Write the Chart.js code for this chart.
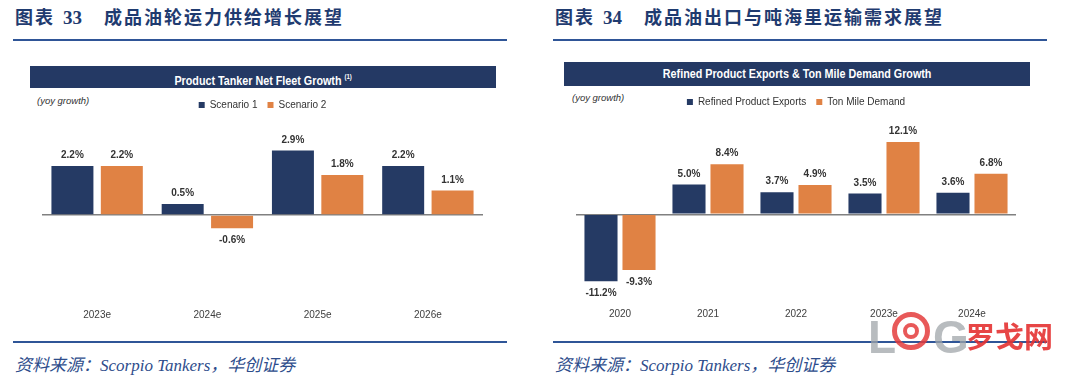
<!DOCTYPE html>
<html><head><meta charset="utf-8">
<script src="https://cdn.jsdelivr.net/npm/chart.js@4.4.1/dist/chart.umd.min.js"></script>
<style>
html,body{margin:0;padding:0;background:#fff;}
body{width:1080px;height:383px;position:relative;overflow:hidden;font-family:"Liberation Sans",Arial,sans-serif;}
.ttl{position:absolute;top:6px;font-family:"Liberation Serif","Noto Sans CJK SC",serif;font-weight:bold;font-size:18px;color:#1f3b70;letter-spacing:2px;white-space:nowrap;line-height:24px;}
.ttl .num{margin:0 22px 0 8px;font-size:19px;letter-spacing:0;}
.rule{position:absolute;height:2px;background:#2f5597;}
.hdr{position:absolute;background:#243964;color:#fff;font-weight:bold;font-size:12.5px;text-align:center;white-space:nowrap;}
.hdr span{display:inline-block;transform:scaleX(0.86);}
.hdr sup{font-size:7px;vertical-align:6px;}
.yoy{position:absolute;font-style:italic;font-size:9.5px;color:#333;}
.src{position:absolute;top:351px;font-family:"Liberation Serif","Noto Sans CJK SC",serif;font-style:italic;font-size:17px;color:#2e4d8c;white-space:nowrap;}
canvas{position:absolute;}
.wm{position:absolute;font-weight:bold;white-space:nowrap;}
</style></head>
<body>
<div class="ttl" style="left:15px;">图表<span class="num">33</span>成品油轮运力供给增长展望</div>
<div class="ttl" style="left:555px;">图表<span class="num">34</span>成品油出口与吨海里运输需求展望</div>
<div class="rule" style="left:13px;width:494px;top:39px;"></div>
<div class="rule" style="left:553px;width:494px;top:39px;"></div>

<div class="hdr" style="left:30px;width:466px;top:66px;height:22px;line-height:22px;"><span>Product Tanker Net Fleet Growth <sup>(1)</sup></span></div>
<div class="hdr" style="left:564px;width:466px;top:62px;height:24px;line-height:24px;"><span>Refined Product Exports &amp; Ton Mile Demand Growth</span></div>
<div class="yoy" style="left:37px;top:95px;">(yoy growth)</div>
<div class="yoy" style="left:572px;top:92px;">(yoy growth)</div>

<canvas id="c1" width="530" height="240" style="left:0;top:90px;width:530px;height:240px;"></canvas>
<canvas id="c2" width="530" height="240" style="left:540px;top:87px;width:530px;height:240px;"></canvas>

<div class="rule" style="left:13px;width:494px;top:341px;"></div>
<div class="rule" style="left:553px;width:494px;top:341px;"></div>
<div class="src" style="left:15px;">资料来源：Scorpio Tankers，华创证券</div>
<div class="src" style="left:555px;">资料来源：Scorpio Tankers，华创证券</div>

<div class="wm" style="left:868px;top:310px;font-size:46px;color:rgba(160,165,170,0.75);font-family:'Liberation Sans',Arial;">L</div>
<div class="wm" style="left:892px;top:312px;width:38px;height:38px;border-radius:50%;border:5px solid rgba(228,60,60,0.85);box-sizing:border-box;"></div>
<div class="wm" style="left:903px;top:323px;width:16px;height:16px;border-radius:50%;border:4px solid rgba(228,60,60,0.85);box-sizing:border-box;"></div>
<div class="wm" style="left:933px;top:310px;font-size:46px;color:rgba(160,165,170,0.75);font-family:'Liberation Sans',Arial;">G</div>
<div class="wm" style="left:966px;top:314px;font-size:29px;color:rgba(228,50,50,0.9);font-family:'Noto Sans CJK SC';">罗戈网</div>

<script>
// ---- Chart 33 data ----
const cats1 = ["2023e", "2024e", "2025e", "2026e"];
const scenario1 = [2.2, 0.5, 2.9, 2.2];
const scenario2 = [2.2, -0.6, 1.8, 1.1];
const series1Names = ["Scenario 1", "Scenario 2"];

// ---- Chart 34 data ----
const cats2 = ["2020", "2021", "2022", "2023e", "2024e"];
const refinedExports = [-11.2, 5.0, 3.7, 3.5, 3.6];
const tonMileDemand = [-9.3, 8.4, 4.9, 12.1, 6.8];
const series2Names = ["Refined Product Exports", "Ton Mile Demand"];

const NAVY = "#253a64";
const ORANGE = "#e08244";
const FONT = "'Liberation Sans', Arial, sans-serif";

const valueLabels = {
  id: "valueLabels",
  afterDatasetsDraw(chart) {
    const ctx = chart.ctx;
    ctx.save();
    ctx.font = "bold 10px " + FONT;
    ctx.fillStyle = "#333333";
    ctx.textAlign = "center";
    ctx.textBaseline = "middle";
    chart.data.datasets.forEach((ds, di) => {
      const meta = chart.getDatasetMeta(di);
      meta.data.forEach((el, i) => {
        const v = ds.data[i];
        const y = v >= 0 ? el.y - 10.5 : el.y + 12;
        ctx.fillText(v.toFixed(1) + "%", el.x, y);
      });
    });
    ctx.restore();
  }
};

function legendGap(extra) {
  return {
    id: "legendGap",
    beforeInit(chart) {
      const origFit = chart.legend.fit;
      chart.legend.fit = function () {
        origFit.bind(chart.legend)();
        this.height += extra;
      };
    }
  };
}

function makeChart(id, cats, a, b, names, ymin, ymax, step, cp, bp, pad, tickPad, gap) {
  return new Chart(document.getElementById(id), {
    type: "bar",
    data: {
      labels: cats,
      datasets: [
        { label: names[0], data: a, backgroundColor: NAVY, categoryPercentage: cp, barPercentage: bp },
        { label: names[1], data: b, backgroundColor: ORANGE, categoryPercentage: cp, barPercentage: bp }
      ]
    },
    options: {
      responsive: false,
      animation: false,
      devicePixelRatio: 1,
      layout: { padding: pad },
      plugins: {
        legend: {
          position: "top",
          labels: {
            boxWidth: 6, boxHeight: 6, padding: 10, color: "#333",
            font: { size: 10, family: FONT }
          }
        },
        tooltip: { enabled: false }
      },
      scales: {
        x: {
          grid: { display: false, drawTicks: false },
          border: { display: false },
          ticks: { color: "#404040", padding: tickPad, font: { size: 10, family: FONT } }
        },
        y: {
          min: ymin, max: ymax,
          ticks: { display: false, stepSize: step },
          border: { display: false },
          grid: {
            drawTicks: false,
            lineWidth: 1.5,
            color: (c) => (c.tick && c.tick.value === 0 ? "#808080" : "rgba(0,0,0,0)")
          }
        }
      }
    },
    plugins: [valueLabels, legendGap(gap)]
  });
}

makeChart("c1", cats1, scenario1, scenario2, series1Names, -4, 4, 1, 0.896, 0.85, { left: 42, right: 47, top: 0, bottom: 4 }, 5, 6);
makeChart("c2", cats2, refinedExports, tonMileDemand, series2Names, -15.5, 15.2, 0.5, 0.864, 0.87, { left: 36, right: 54, top: 0, bottom: 6 }, 1, 6.5);
</script>
</body></html>
